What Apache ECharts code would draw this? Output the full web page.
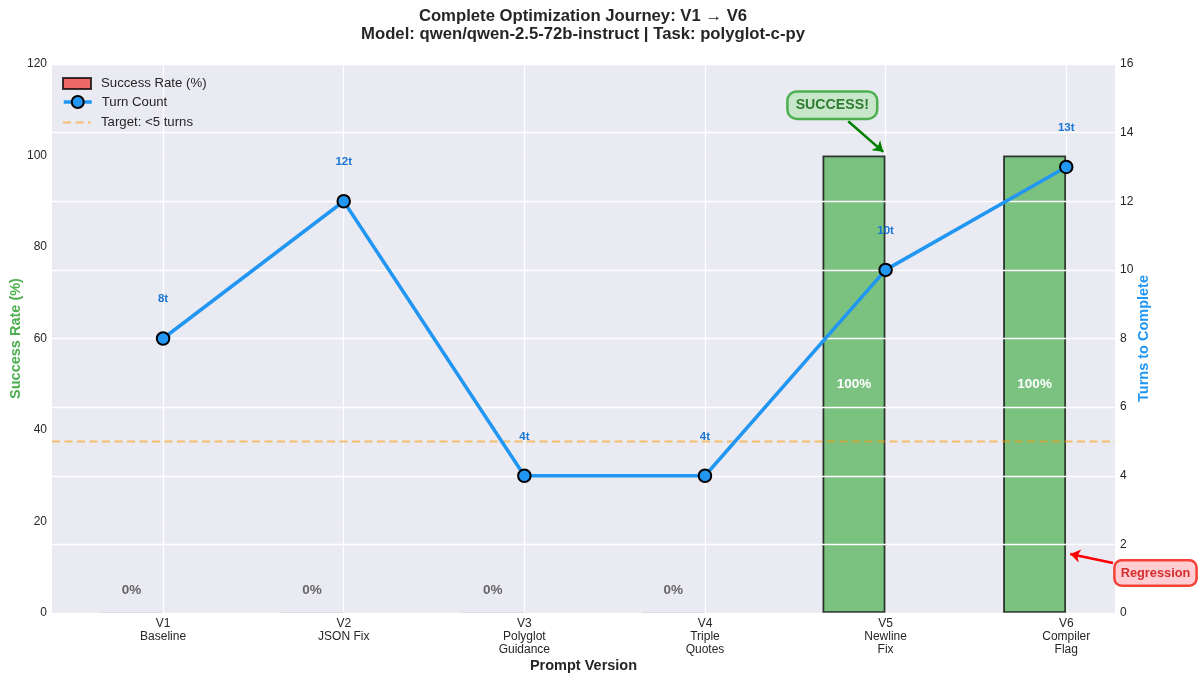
<!DOCTYPE html>
<html>
<head>
<meta charset="utf-8">
<script src="https://cdn.jsdelivr.net/npm/echarts@6/dist/echarts.min.js"></script>
<style>
  html, body { margin: 0; background: #fff; }
  #chart { width: 1200px; height: 681px; }
</style>
</head>
<body>
<div id="chart"></div>
<script>
var versions = ['V1\nBaseline', 'V2\nJSON Fix', 'V3\nPolyglot\nGuidance', 'V4\nTriple\nQuotes', 'V5\nNewline\nFix', 'V6\nCompiler\nFlag'];
var positions = [0, 1, 2, 3, 4, 5];
var successRate = [0, 0, 0, 0, 100, 100];
var turnCount = [8, 12, 4, 4, 10, 13];
var targetTurns = 5;
var xMin = -0.615;
var xMax = 5.27;
var barShift = 0.175;

var font = '"Liberation Sans", Arial, sans-serif';
var green = '#4caf50', blue = '#2196f3';
var dash = [8, 4.5];

var barData = successRate.map(function (v, i) {
  return {
    value: [positions[i] - barShift, v],
    // zero height bars only leave a faint trace on the axis
    itemStyle: v > 0
      ? { color: 'rgba(76,175,80,0.7)' }
      : { borderColor: 'rgba(190,190,210,0.7)', borderWidth: 1 },
    label: {
      show: true,
      position: v > 0 ? 'inside' : 'top',
      distance: 15,
      formatter: v + '%',
      color: v > 0 ? '#fff' : '#666',
      fontSize: 13.5,
      fontWeight: 'bold',
      fontFamily: font
    }
  };
});

function legendAt(top, height, item) {
  return {
    left: 57,
    top: top,
    itemWidth: 28,
    itemHeight: height,
    itemGap: 0,
    selectedMode: false,
    textStyle: { fontSize: 13.2, color: '#262626', fontFamily: font, padding: [0, 0, 0, 5] },
    data: [item]
  };
}

var option = {
  backgroundColor: '#fff',
  animation: false,
  textStyle: { fontFamily: font },
  title: {
    text: 'Complete Optimization Journey: V1 → V6\nModel: qwen/qwen-2.5-72b-instruct | Task: polyglot-c-py',
    left: 578,
    top: 2,
    textAlign: 'center',
    textStyle: { fontSize: 16.7, fontWeight: 'bold', color: '#262626', lineHeight: 18.5, fontFamily: font }
  },
  legend: [
    legendAt(72, 11, { name: 'Success Rate (%)', icon: 'rect' }),
    legendAt(90, 15, { name: 'Turn Count', lineStyle: { width: 3.5 } }),
    legendAt(111, 14, { name: 'Target: <5 turns', itemStyle: { color: 'transparent', borderColor: 'transparent', opacity: 0 } })
  ],
  grid: {
    left: 52,
    right: 85,
    top: 64,
    bottom: 68,
    outerBoundsMode: 'none',
    show: true,
    backgroundColor: '#eaeaf2',
    borderWidth: 0
  },
  xAxis: {
    type: 'value',
    min: xMin,
    max: xMax,
    name: 'Prompt Version',
    nameLocation: 'middle',
    nameGap: 45,
    nameMoveOverlap: false,
    nameTextStyle: { fontSize: 14.5, fontWeight: 'bold', color: '#262626', fontFamily: font },
    axisLine: { show: false },
    axisTick: { show: false, customValues: positions },
    splitLine: { show: true, customValues: positions, lineStyle: { color: '#fff', width: 1.2 } },
    axisLabel: {
      customValues: positions,
      formatter: function (v) { return versions[Math.round(v)]; },
      fontSize: 12,
      lineHeight: 13,
      color: '#262626',
      margin: 4,
      fontFamily: font
    }
  },
  yAxis: [
    {
      type: 'value',
      min: 0,
      max: 120,
      interval: 20,
      name: 'Success Rate (%)',
      nameLocation: 'middle',
      nameGap: 29,
      nameMoveOverlap: false,
      nameTextStyle: { fontSize: 14.5, fontWeight: 'bold', color: green, fontFamily: font },
      axisLine: { show: false },
      axisTick: { show: false },
      splitLine: { show: true, lineStyle: { color: 'rgba(255,255,255,0.12)', width: 1.2 } },
      axisLabel: { fontSize: 12, color: '#262626', margin: 5, fontFamily: font }
    },
    {
      type: 'value',
      min: 0,
      max: 16,
      interval: 2,
      position: 'right',
      z: 3,
      name: 'Turns to Complete',
      nameLocation: 'middle',
      nameGap: 21,
      nameRotate: 90,
      nameMoveOverlap: false,
      nameTextStyle: { fontSize: 14.5, fontWeight: 'bold', color: blue, fontFamily: font },
      axisLine: { show: false },
      axisTick: { show: false },
      splitLine: { show: true, lineStyle: { color: '#fff', width: 1.4 } },
      axisLabel: { fontSize: 12, color: '#262626', margin: 5, fontFamily: font }
    }
  ],
  series: [
    {
      name: 'Success Rate (%)',
      type: 'bar',
      yAxisIndex: 0,
      z: 2,
      barWidth: 63,
      data: barData,
      itemStyle: { color: 'rgba(239,83,80,0.85)', borderColor: 'rgba(0,0,0,0.75)', borderWidth: 1.8 },
      clip: false,
      markLine: {
        silent: true,
        symbol: ['none', 'arrow'],
        symbolSize: 10,
        label: { show: false },
        data: [
          [{ coord: [3.793, 107.5], lineStyle: { color: 'green', width: 2.5, type: 'solid' } }, { coord: [3.987, 100.8] }],
          // starts outside the plot area, so the tail is placed on the page
          [{ x: 1113, y: 563, lineStyle: { color: 'red', width: 2.5, type: 'solid' } }, { coord: [5.022, 12.9] }]
        ]
      },
      markPoint: {
        symbol: 'rect',
        symbolSize: 0.01,
        data: [
          {
            coord: [3.705, 111],
            label: {
              show: true, position: 'inside', formatter: 'SUCCESS!', fontSize: 14.2, fontWeight: 'bold', color: '#2e7d32',
              backgroundColor: '#c8e6c9', borderColor: green, borderWidth: 2.5, borderRadius: 8,
              padding: [6, 7, 5, 7], fontFamily: font
            }
          },
          {
            x: 1155.5,
            y: 573,
            label: {
              show: true, position: 'inside', formatter: 'Regression', fontSize: 12.8, fontWeight: 'bold', color: '#d32f2f',
              backgroundColor: '#ffcdd2', borderColor: '#f44336', borderWidth: 2.5, borderRadius: 6,
              padding: [5, 5, 5, 5], fontFamily: font
            }
          }
        ]
      }
    },
    {
      name: 'Turn Count',
      type: 'line',
      yAxisIndex: 1,
      z: 5,
      data: turnCount.map(function (v, i) { return [positions[i], v]; }),
      symbol: 'circle',
      symbolSize: 12.5,
      lineStyle: { color: blue, width: 3.5 },
      itemStyle: { color: blue, borderColor: '#000', borderWidth: 2 },
      label: {
        show: true,
        position: 'top',
        distance: 26,
        formatter: function (p) { return p.value[1] + 't'; },
        fontSize: 11.5,
        fontWeight: 'bold',
        color: '#1976d2',
        fontFamily: font
      }
    },
    {
      name: 'Target: <5 turns',
      type: 'line',
      yAxisIndex: 1,
      z: 4,
      data: [[xMin, targetTurns], [xMax, targetTurns]],
      symbol: 'none',
      lineStyle: { color: 'rgba(255,152,0,0.55)', width: 2, type: dash },
      itemStyle: { color: 'rgba(255,152,0,0.55)' }
    }
  ]
};

var chart = echarts.init(document.getElementById('chart'), null, { renderer: 'canvas' });
chart.setOption(option);
</script>
</body>
</html>
